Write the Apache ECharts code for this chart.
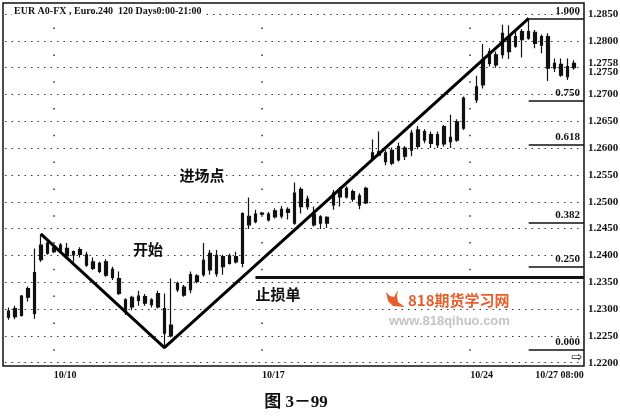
<!DOCTYPE html>
<html>
<head>
<meta charset="utf-8">
<script src="https://cdn.jsdelivr.net/npm/echarts@6/dist/echarts.min.js"></script>
<style>html,body{margin:0;padding:0;background:#fff;}#c{width:620px;height:418px;}</style>
</head>
<body>
<div id="c"></div>
<script>
// ---- data (240-minute bars) ----
const opens  = [1.2285,1.2286,1.2288,1.2322,1.2292,1.2392,1.2423,1.2414,1.2410,1.2413,1.2407,1.2402,1.2401,1.2388,1.2385,1.2388,1.2374,1.2357,1.2317,1.2304,1.2316,1.2323,1.2308,1.2304,1.2301,1.2250,1.2336,1.2341,1.2336,1.2351,1.2364,1.2373,1.2400,1.2379,1.2385,1.2388,1.2385,1.2473,1.2463,1.2477,1.2466,1.2472,1.2473,1.2480,1.2460,1.2523,1.2505,1.2477,1.2460,1.2471,1.2494,1.2509,1.2525,1.2505,1.2511,1.2498,1.2580,1.2593,1.2591,1.2572,1.2578,1.2600,1.2596,1.2603,1.2631,1.2609,1.2625,1.2608,1.2620,1.2615,1.2637,null,1.2690,1.2718,1.2780,1.2755,1.2774,1.2808,1.2790,1.2802,1.2817,1.2816,1.2808,1.2808,1.2758,1.2756,1.2733,1.2750];
const closes = [1.2296,1.2301,1.2324,1.2338,1.2368,1.2419,1.2404,1.2407,1.2419,1.2399,1.2401,1.2411,1.2382,1.2376,1.2370,1.2363,1.2359,1.2329,1.2295,1.2322,1.2324,1.2311,1.2317,1.2329,1.2255,1.2270,1.2348,1.2326,1.2364,1.2362,1.2391,1.2404,1.2366,1.2398,1.2399,1.2398,1.2478,1.2457,1.2477,1.2479,1.2477,1.2483,1.2486,1.2486,1.2516,1.2491,1.2491,1.2457,1.2472,1.2460,1.2516,1.2522,1.2509,1.2519,1.2494,1.2525,1.2591,1.2587,1.2575,1.2596,1.2603,1.2585,1.2628,1.2634,1.2615,1.2625,1.2606,1.2640,1.2612,1.2649,1.2693,null,1.2714,1.2764,1.2758,1.2774,1.2814,1.2780,1.2808,1.2817,1.2805,1.2795,1.2792,1.2749,1.2749,1.2736,1.2752,1.2758];
const lows   = [1.2280,1.2281,1.2286,1.2314,1.2282,1.2388,1.2401,1.2404,1.2404,1.2395,1.2388,1.2396,1.2379,1.2373,1.2367,1.2360,1.2354,1.2326,1.2289,1.2298,1.2306,1.2306,1.2303,1.2301,1.2229,1.2247,1.2332,1.2323,1.2330,1.2348,1.2360,1.2364,1.2360,1.2364,1.2383,1.2385,1.2378,1.2449,1.2460,1.2475,1.2463,1.2469,1.2469,1.2467,1.2457,1.2478,1.2485,1.2454,1.2449,1.2451,1.2485,1.2491,1.2506,1.2500,1.2486,1.2496,1.2578,1.2585,1.2568,1.2568,1.2575,1.2578,1.2585,1.2598,1.2609,1.2600,1.2600,1.2603,1.2600,1.2612,1.2634,null,1.2684,1.2711,1.2752,1.2750,1.2767,1.2766,1.2787,1.2769,1.2802,1.2786,1.2777,1.2725,1.2742,1.2733,1.2727,1.2746];
const highs  = [1.2303,1.2306,1.2326,1.2342,1.2413,1.2440,1.2426,1.2416,1.2423,1.2423,1.2409,1.2415,1.2407,1.2396,1.2388,1.2393,1.2379,1.2370,1.2320,1.2325,1.2334,1.2328,1.2320,1.2334,1.2329,1.2357,1.2351,1.2345,1.2370,1.2365,1.2423,1.2410,1.2410,1.2401,1.2403,1.2407,1.2480,1.2508,1.2485,1.2481,1.2481,1.2488,1.2492,1.2490,1.2536,1.2527,1.2511,1.2491,1.2475,1.2473,1.2522,1.2527,1.2529,1.2523,1.2516,1.2528,1.2616,1.2631,1.2596,1.2601,1.2610,1.2604,1.2634,1.2641,1.2635,1.2631,1.2631,1.2643,1.2662,1.2654,1.2696,null,1.2735,1.2794,1.2786,1.2780,1.2830,1.2829,1.2818,1.2822,1.2842,1.2820,1.2812,1.2814,1.2767,1.2767,1.2767,1.2764];
const barCount = 89;                       // bar slots on the time axis (last one empty)
const xTickIndex = [7, 39, 71, 81];
const xTickText  = ['10/10', '10/17', '10/24', '10/27 08:00'];
const weekLineIndex = [7, 39, 71];
const yMin = 1.2200, yMax = 1.2850, yStep = 0.0050;
const lastPrice = 1.2758;
// trend lines (bar index, price)
const trendIdx   = [5, 24, 80];
const trendPrice = [1.2440, 1.2228, 1.2842];
// Fibonacci retracement
const fibLow = 1.2225, fibHigh = 1.2842, fibStartIdx = 80;
const fibRatios = [1.000, 0.750, 0.618, 0.382, 0.250, 0.000];
// stop-loss line
const stopPrice = 1.2360, stopStartIdx = 38;
// annotations
const notes = [
  {text: '开始', x: 148, y: 249},
  {text: '进场点', x: 202, y: 175},
  {text: '止损单', x: 278, y: 294}
];

// ---- layout ----
const GL = 5, GR = 36, GT = 14, GB = 55.3;
const plotRight = 620 - GR;

const categories = Array.from({length: barCount}, (_, i) => 'b' + i);
const candleData = opens.map((o, i) => o == null ? '-' : [o, closes[i], lows[i], highs[i]]);
const trendData = trendIdx.map((x, i) => [x, trendPrice[i]]);
const numFont = '"Liberation Serif", "Times New Roman", serif';
const cjkFont = '"Noto Sans CJK SC", sans-serif';

const chart = echarts.init(document.getElementById('c'), null, {renderer: 'canvas'});
chart.setOption({
  animation: false,
  backgroundColor: '#fff',
  grid: {left: GL, right: GR, top: GT, bottom: GB, containLabel: false, outerBoundsMode: 'none'},
  xAxis: {
    type: 'category', data: categories, boundaryGap: true,
    axisLine: {show: false}, axisTick: {show: false}, splitLine: {show: false},
    axisLabel: {
      interval: 0, margin: 8, align: 'left', color: '#111',
      fontFamily: numFont, fontWeight: 'bold', fontSize: 10,
      formatter: (v, i) => { const k = xTickIndex.indexOf(i); return k >= 0 ? xTickText[k] : ''; }
    }
  },
  yAxis: {
    type: 'value', position: 'right', min: yMin, max: yMax, interval: yStep, scale: true,
    axisLine: {show: false}, axisTick: {show: false},
    splitLine: {show: true, lineStyle: {color: '#333', width: 1, type: [1.5, 5]}},
    axisLabel: {
      margin: 4, color: '#111', fontFamily: numFont, fontWeight: 'bold', fontSize: 11,
      formatter: v => Math.abs(v - 1.275) < 1e-6 ? '{s|' + v.toFixed(4) + '}' : v.toFixed(4),
      rich: {s: {padding: [9, 0, 0, 0], fontFamily: numFont, fontWeight: 'bold', fontSize: 11, color: '#111'}}
    }
  },
  series: [
    {
      type: 'candlestick', data: candleData, barWidth: 3,
      itemStyle: {color: '#111', color0: '#111', borderColor: '#111', borderColor0: '#111', borderWidth: 1.2},
      z: 3,
      markLine: {
        silent: true, symbol: 'none', animation: false, precision: 4,
        lineStyle: {color: '#111', width: 1.5, type: 'solid'},
        label: {
          show: true, position: 'insideEndTop', distance: [4, 2], formatter: '{b}',
          color: '#111', fontFamily: numFont, fontWeight: 'bold', fontSize: 11
        },
        data: fibRatios.map(r => {
          const p = fibLow + r * (fibHigh - fibLow);
          return [{name: r.toFixed(3), coord: [fibStartIdx, p]}, {x: plotRight, yAxis: p}];
        }).concat([[
          {name: '', coord: [stopStartIdx, stopPrice], lineStyle: {width: 3}, label: {show: false}},
          {x: plotRight, yAxis: stopPrice}
        ]])
      }
    },
    {
      type: 'line', data: trendData, symbol: 'none', z: 5,
      lineStyle: {color: '#000', width: 3},
      markLine: {
        silent: true, symbol: 'none', animation: false, precision: 4,
        data: [
          ...weekLineIndex.map(i => ({xAxis: i, label: {show: false},
            lineStyle: {color: '#333', width: 1.5, type: [1.5, 25.3], dashOffset: -12}})),
          {yAxis: lastPrice, lineStyle: {color: 'rgba(0,0,0,0)', width: 0},
            label: {show: true, position: 'end', distance: 4, formatter: lastPrice.toFixed(4),
              color: '#111', fontFamily: numFont, fontWeight: 'bold', fontSize: 11}}
        ]
      }
    }
  ],
  graphic: [
    {type: 'rect', shape: {x: 3, y: 3, width: plotRight - 3, height: 363},
      style: {fill: 'none', stroke: '#111', lineWidth: 1.5}, z: 1, silent: true},
    {type: 'text', x: 12, y: 5, z: 10,
      style: {text: 'EUR A0-FX , Euro.240  120 Days0:00-21:00', font: 'bold 10px "Liberation Serif", serif',
        fill: '#111', backgroundColor: '#fff', padding: [1, 2]}},
    ...notes.map(n => ({type: 'text', x: n.x, y: n.y, z: 10,
      style: {text: n.text, font: 'bold 15px ' + cjkFont, fill: '#111', align: 'center', verticalAlign: 'middle'}})),
    {type: 'polygon', z: 10, silent: true,
      shape: {points: [[386,292],[388,301],[393,306],[405,307],[398,302],[397,296],[398,290],[394,297],[390,296]]},
      style: {fill: '#e6602e'}},
    {type: 'text', x: 408, y: 300, z: 10,
      style: {text: '818期货学习网', font: 'bold 15px ' + cjkFont, fill: '#e6602e', align: 'left', verticalAlign: 'middle'}},
    {type: 'text', x: 389, y: 321, z: 10,
      style: {text: 'www.818qihuo.com', font: 'bold 13px "Liberation Sans", sans-serif', fill: '#c4c4c4', align: 'left', verticalAlign: 'middle'}},
    {type: 'text', x: 577, y: 358, z: 10,
      style: {text: '⇨', font: '13px "DejaVu Sans", sans-serif', fill: '#111', align: 'center', verticalAlign: 'middle'}},
    {type: 'text', x: 296, y: 403, z: 10,
      style: {text: '图 3－99', font: 'bold 17px "Liberation Serif", "Noto Sans CJK SC", serif', fill: '#111', align: 'center', verticalAlign: 'middle'}}
  ]
});
</script>
</body>
</html>
